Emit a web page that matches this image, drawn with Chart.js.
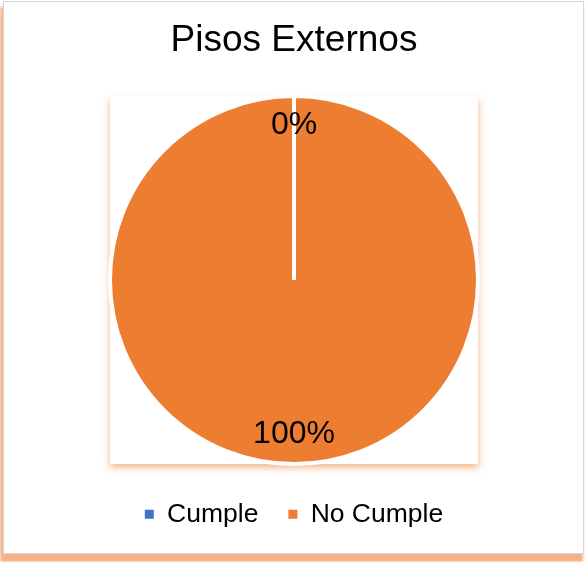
<!DOCTYPE html>
<html>
<head>
<meta charset="utf-8">
<script src="https://cdn.jsdelivr.net/npm/chart.js@4"></script>
<style>
  html,body{margin:0;padding:0;background:#fff;width:586px;height:562px;overflow:hidden}
  #frame{position:absolute;left:3px;top:1px;width:579px;height:551px;border:1px solid #d6d6d6;background:#fff;
    box-shadow:-2px 7px 3px 1px rgba(237,125,49,.6)}
  #chart{position:absolute;left:0;top:0}
</style>
</head>
<body>
<div id="frame"></div>
<canvas id="chart" width="586" height="562"></canvas>
<script>
const categories = ["Cumple", "No Cumple"];
const values = [0, 100];
const colors = ["#4472C4", "#ED7D31"];
const FONT = '"Liberation Sans", Arial, sans-serif';

// white plot-area box with soft orange shadow behind the pie
const plotBox = {
  id: "plotBox",
  beforeDatasetsDraw(chart){
    const arc = chart.getDatasetMeta(0).data[0];
    if(!arc) return;
    const {x, y, outerRadius} = arc.getProps(["x","y","outerRadius"], true);
    const ctx = chart.ctx;
    ctx.save();
    ctx.shadowColor = "rgba(237,125,49,.6)";
    ctx.shadowBlur = 7; ctx.shadowOffsetY = 4;
    ctx.fillStyle = "#fff";
    ctx.fillRect(x-outerRadius, y-outerRadius, outerRadius*2, outerRadius*2);
    ctx.restore();
  }
};

// percentage labels near the outer edge of each slice
const pctLabels = {
  id: "pctLabels",
  afterDatasetsDraw(chart){
    const ctx = chart.ctx;
    const total = values.reduce((a,b)=>a+b, 0);
    ctx.save();
    ctx.font = "32px " + FONT; ctx.fillStyle = "#000";
    ctx.textAlign = "center"; ctx.textBaseline = "middle";
    chart.getDatasetMeta(0).data.forEach((arc, i)=>{
      const {x, y, startAngle, endAngle, outerRadius} = arc.getProps(["x","y","startAngle","endAngle","outerRadius"], true);
      const mid = (startAngle+endAngle)/2, r = outerRadius*0.84;
      ctx.fillText(Math.round(values[i]/total*100) + "%", x+Math.cos(mid)*r, y+Math.sin(mid)*r);
    });
    ctx.restore();
  }
};

const baseLabels = Chart.overrides.pie.plugins.legend.labels.generateLabels;

new Chart(document.getElementById("chart"), {
  type: "pie",
  data: {labels: categories, datasets: [{data: values, backgroundColor: colors, borderColor: "#fff", borderWidth: 4, radius: 184}]},
  options: {
    responsive: false, animation: false,
    layout: {padding: {left: 2, right: 0, top: 0, bottom: 24.5}},
    plugins: {
      title: {display: true, text: "Pisos Externos", color: "#000", font: {family: FONT, size: 37, weight: "normal"}, padding: {top: 18.9, bottom: 25.9}},
      legend: {position: "bottom", labels: {color: "#000", boxWidth: 9, boxHeight: 9, padding: 30, font: {family: FONT, size: 26.5},
        generateLabels: ch => baseLabels(ch).map(l => Object.assign(l, {lineWidth: 0, strokeStyle: l.fillStyle}))}},
      tooltip: {enabled: false}
    }
  },
  plugins: [plotBox, pctLabels]
});
</script>
</body>
</html>
